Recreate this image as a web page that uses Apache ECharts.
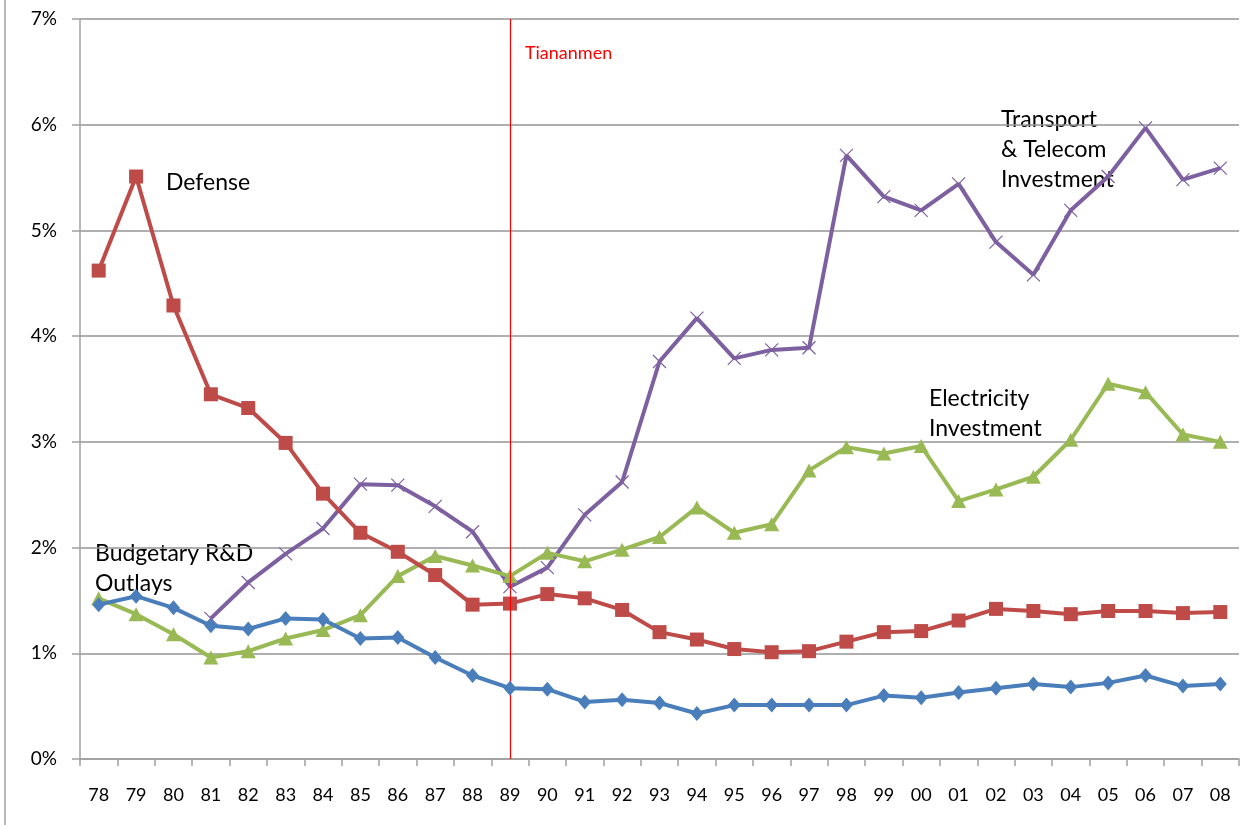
<!DOCTYPE html>
<html><head><meta charset="utf-8">
<script src="https://cdn.jsdelivr.net/npm/echarts@6/dist/echarts.min.js"></script>
<style>html,body{margin:0;padding:0;background:#fff}#c{width:1247px;height:825px}</style>
</head><body><div id="c"></div>
<script>
const years = ['78','79','80','81','82','83','84','85','86','87','88','89','90','91','92','93','94','95','96','97','98','99','00','01','02','03','04','05','06','07','08'];
const yTicks = ['0%','1%','2%','3%','4%','5%','6%','7%'];
const rdOutlays = [1.46,1.54,1.43,1.26,1.23,1.33,1.32,1.14,1.15,0.96,0.79,0.67,0.66,0.54,0.56,0.53,0.43,0.51,0.51,0.51,0.51,0.60,0.58,0.63,0.67,0.71,0.68,0.72,0.79,0.69,0.71];
const defense = [4.62,5.51,4.29,3.45,3.32,2.99,2.51,2.14,1.96,1.74,1.46,1.47,1.56,1.52,1.41,1.20,1.13,1.04,1.01,1.02,1.11,1.20,1.21,1.31,1.42,1.40,1.37,1.40,1.40,1.38,1.39];
const electricity = [1.52,1.37,1.18,0.96,1.02,1.14,1.22,1.36,1.73,1.92,1.83,1.73,1.95,1.87,1.98,2.10,2.38,2.14,2.22,2.73,2.95,2.89,2.96,2.44,2.55,2.67,3.02,3.55,3.47,3.07,3.00];
const transport = [null,null,null,1.33,1.67,1.94,2.18,2.60,2.59,2.39,2.15,1.63,1.81,2.31,2.62,3.76,4.17,3.79,3.87,3.89,5.71,5.32,5.19,5.44,4.89,4.58,5.19,5.51,5.97,5.48,5.59];
const eventYear = '89';
const eventLabel = 'Tiananmen';

const FONT = 'Lato, "Open Sans", sans-serif';
const chart = echarts.init(document.getElementById('c'), null, {renderer:'canvas'});
const txt = (t, l, tp) => ({type:'text', left:l, top:tp, style:{text:t, font:'23px ' + FONT, fill:'#000', lineHeight:30}});
chart.setOption({
  animation:false,
  backgroundColor:'#fff',
  grid:{left:80, right:8, top:19, bottom:66, containLabel:false},
  xAxis:{type:'category', data:years, boundaryGap:true,
    axisLine:{lineStyle:{color:'#a0a0a0', width:1.5}},
    axisTick:{show:true, length:7, lineStyle:{color:'#a0a0a0', width:1.5}},
    axisLabel:{color:'#000', fontSize:18, fontFamily:FONT, margin:27, interval:0},
    splitLine:{show:false}},
  yAxis:{type:'value', min:0, max:7, interval:1,
    axisLine:{show:true, lineStyle:{color:'#a0a0a0', width:1.5}},
    axisTick:{show:true, length:8, lineStyle:{color:'#a0a0a0', width:1.5}},
    axisLabel:{color:'#000', fontSize:19, fontFamily:FONT, margin:23, formatter:(v)=>yTicks[v]},
    splitLine:{lineStyle:{color:'#959595', width:1.5}}},
  graphic:[
    {type:'line', shape:{x1:5, y1:0, x2:5, y2:825}, style:{stroke:'#a0a0a0', lineWidth:1.5}},
    txt('Defense', 166, 168),
    txt('Budgetary R&D\nOutlays', 95, 539),
    txt('Electricity\nInvestment', 929, 384),
    txt('Transport\n& Telecom\nInvestment', 1001, 105)
  ],
  series:[
    {name:'Budgetary R&D Outlays', type:'line', data:rdOutlays, symbol:'diamond', symbolSize:[13,15],
      lineStyle:{color:'#4a7ebb', width:4}, itemStyle:{color:'#4a7ebb'}, z:5},
    {name:'Defense', type:'line', data:defense, symbol:'rect', symbolSize:14,
      lineStyle:{color:'#be4b48', width:4}, itemStyle:{color:'#be4b48'}, z:4},
    {name:'Electricity Investment', type:'line', data:electricity, symbol:'triangle', symbolSize:[15,14],
      lineStyle:{color:'#98b954', width:4}, itemStyle:{color:'#98b954'}, z:3},
    {name:'Transport & Telecom Investment', type:'line', data:transport, symbol:'path://M0,0L10,10M10,0L0,10', symbolSize:13,
      lineStyle:{color:'#7d60a0', width:4}, itemStyle:{color:'none', borderColor:'#7d60a0', borderWidth:1.2}, z:2,
      markLine:{silent:true, symbol:'none', label:{show:false},
        lineStyle:{color:'#ff0000', width:1.2, type:'solid'},
        data:[{xAxis:eventYear}]},
      markPoint:{symbol:'circle', symbolSize:0,
        label:{show:true, position:'right', distance:15, color:'#ff0000', fontSize:18, fontFamily:FONT, formatter:eventLabel},
        data:[{coord:[eventYear, 6.68]}]}}
  ]
});
</script></body></html>
